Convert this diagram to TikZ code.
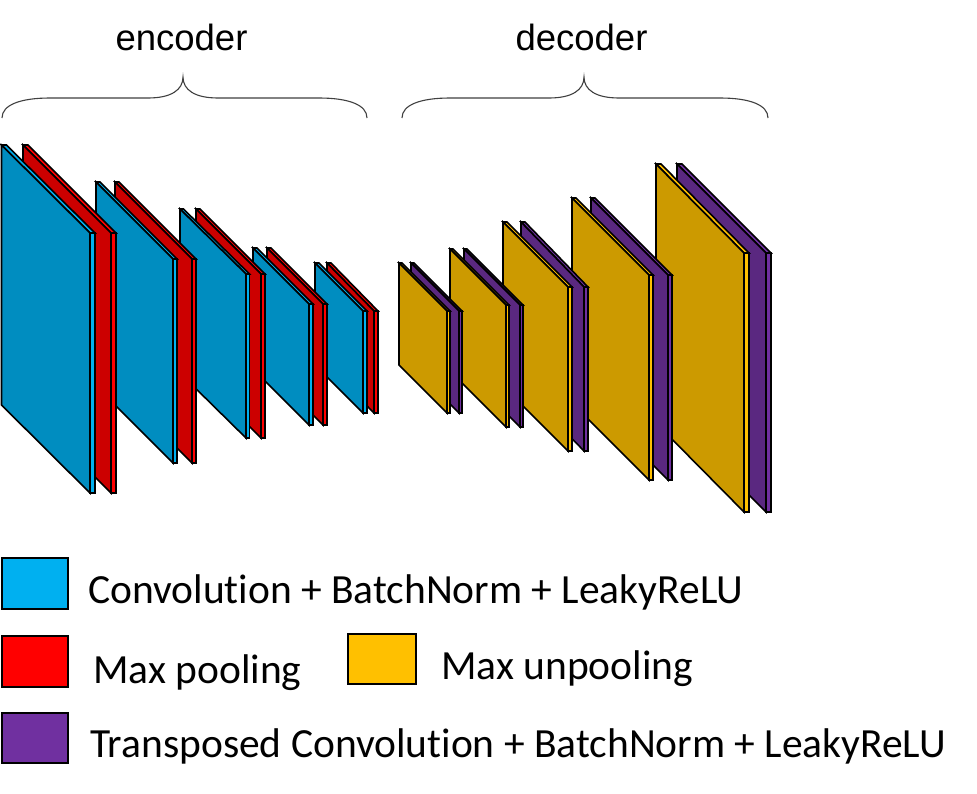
\documentclass[tikz,border=0pt]{standalone}
\usepackage{fontspec}
\setmainfont[Ligatures=NoCommon]{Carlito}
\newfontfamily\arialf{Liberation Sans}
\definecolor{cyanS}{HTML}{00B0F0}
\definecolor{cyanF}{HTML}{008DC0}
\definecolor{redS}{HTML}{FF0000}
\definecolor{redF}{HTML}{CC0000}
\definecolor{yelS}{HTML}{FFC000}
\definecolor{yelF}{HTML}{CC9A00}
\definecolor{purS}{HTML}{7030A0}
\definecolor{purF}{HTML}{5A2880}
\definecolor{braceC}{HTML}{404040}
\newcommand\myslab[8]{%
  \filldraw[slabline, fill=#8] (#1,#2) -- ++(#6,0) -- ++(#3,#4) -- ++(-#6,0) -- cycle;
  \filldraw[slabline, fill=#8] (#1+#3,#2+#4) -- ++(#6,0) -- ++(0,#5) -- ++(-#6,0) -- cycle;
  \filldraw[slabline, fill=#7] (#1,#2) -- ++(#3,#4) -- ++(0,#5) -- ++(-#3,-#4) -- cycle;
}
\newcommand\mybrace[3]{% left x, tip x, right x
  \draw[bracestyle] (#1,118) .. controls (#1,105) and (#1+18,98) .. (#1+48,98)
    -- (#2-35,98) .. controls (#2-12,98) and (#2,90) .. (#2,77)
    .. controls (#2,90) and (#2+12,98) .. (#2+35,98)
    -- (#3-48,98) .. controls (#3-18,98) and (#3,105) .. (#3,118);
}
\tikzset{
  slabline/.style={draw=black, line width=1.6pt},
  legbox/.style={draw=black, line width=2pt},
  bracestyle/.style={draw=braceC, line width=1.1pt},
  legtext/.style={anchor=base west, inner sep=0pt, font=\fontsize{41.5}{41.5}\selectfont},
  titletext/.style={anchor=base, inner sep=0pt, font=\arialf\fontsize{36.5}{36.5}\selectfont}
}
\begin{document}
\begin{tikzpicture}[x=1pt, y=-1pt]
\useasboundingbox (0,0) rectangle (977,793);
\fill[white] (0,0) rectangle (977,793);
% titles and braces
\node[titletext] (enc) at (181.5,50) {encoder};
\node[titletext] (dec) at (581.5,50) {decoder};
\mybrace{2}{183}{367}
\mybrace{402}{584}{768}
% encoder slabs (right to left)
\myslab{327}{263}{47}{48}{102}{4}{redF}{redS}
\myslab{315}{263}{48}{48}{102}{4}{cyanF}{cyanS}
\myslab{267}{248}{56}{56}{121}{4}{redF}{redS}
\myslab{253}{248}{56}{56}{121}{4}{cyanF}{cyanS}
\myslab{196}{209}{65}{65}{164}{4}{redF}{redS}
\myslab{180}{209}{66}{65}{164}{3.5}{cyanF}{cyanS}
\myslab{115}{182}{77}{77}{204}{4}{redF}{redS}
\myslab{96}{182}{77}{77}{204}{4}{cyanF}{cyanS}
\myslab{23}{145}{88}{88}{260}{5}{redF}{redS}
\myslab{1.5}{145}{88.5}{88}{260}{5}{cyanF}{cyanS}
% decoder slabs (right to left)
\myslab{677}{164}{89}{89}{259}{5}{purF}{purS}
\myslab{656}{164}{88}{89}{259}{5}{yelF}{yelS}
\myslab{591}{198}{77}{77}{205}{4}{purF}{purS}
\myslab{572}{198}{77}{77}{205}{4}{yelF}{yelS}
\myslab{521}{222}{63}{65}{164}{4}{purF}{purS}
\myslab{503}{222}{65}{65}{164}{4}{yelF}{yelS}
\myslab{464}{249}{56}{56}{122}{3}{purF}{purS}
\myslab{450}{249}{56}{56}{122}{3}{yelF}{yelS}
\myslab{411}{263}{48}{48}{102}{3}{purF}{purS}
\myslab{399}{263}{48}{48}{102}{3}{yelF}{yelS}
% legend
\draw[legbox, fill=cyanS] (2,558) rectangle (68,609);
\draw[legbox, fill=redS] (2,636) rectangle (68,687);
\draw[legbox, fill=purS] (2,713) rectangle (68,763);
\draw[legbox, fill=yelS] (348,634) rectangle (416,684);
\node[legtext] (t1) at (88,603) {Convolution + BatchNorm + LeakyReLU};
\node[legtext] (t2) at (93,683) {Max pooling};
\node[legtext] (t3) at (441,679) {Max unpooling};
\node[legtext] (t4) at (90,757) {Transposed Convolution + BatchNorm + LeakyReLU};
\end{tikzpicture}
\end{document}
